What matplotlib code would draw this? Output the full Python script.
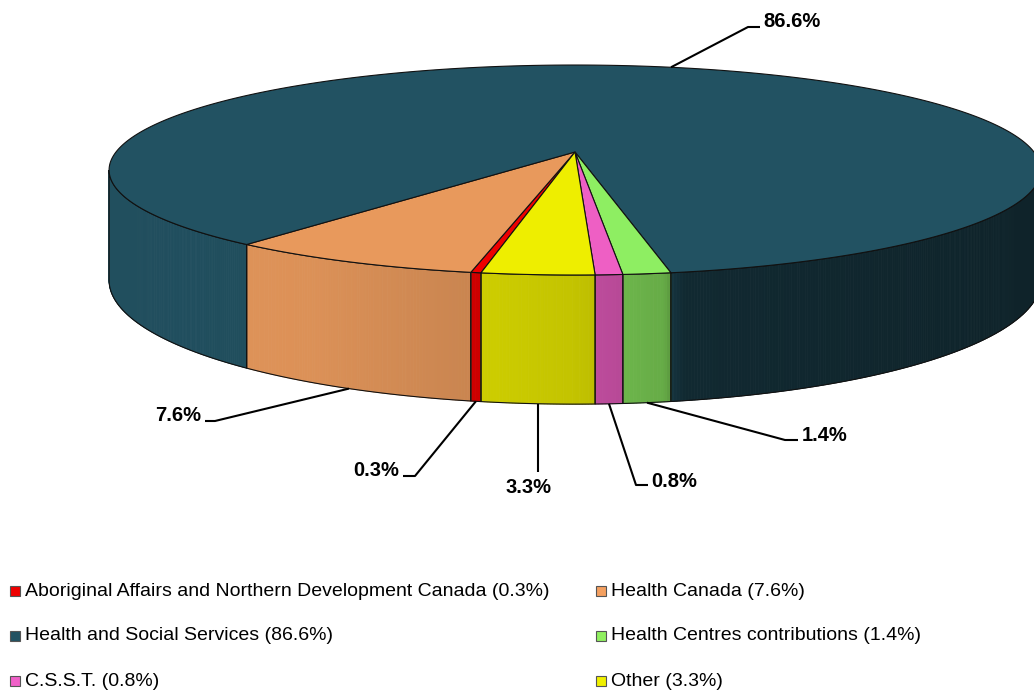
import numpy as np, matplotlib
matplotlib.use('Agg'); import matplotlib.pyplot as plt
from matplotlib.patches import Polygon, Rectangle

plt.rcParams['font.family'] = ['Liberation Sans', 'DejaVu Sans']

labels = ['Aboriginal Affairs and Northern Development Canada', 'Health Canada',
          'Health and Social Services', 'Health Centres contributions', 'C.S.S.T.', 'Other']
values = [0.3, 7.6, 86.6, 1.4, 0.8, 3.3]
colors = ['#ee0000', '#e8995c', '#225262', '#8eee62', '#ee5fc4', '#eeee00']
legend_colors = ['#ee0000', '#f4a060', '#225262', '#90f060', '#f060c8', '#f0f000']

# projection of the tilted disc (pixel coords)
cx, cy, rx, ry, k, h = 575, 152, 459, 101.9, 0.1715, 107
start = -99.8  # degrees, pie runs clockwise

def proj(t, z=0.0):
    u, v = np.cos(t), np.sin(t)
    s = 1.0 / (1 + k * v)
    return cx + rx * u * s, cy - ry * v * s + z * h * s

def shade(c):
    # wall brightness as function of cos(angle)
    return np.interp(c, [-1, -0.5, 0, 0.16, 0.2, 1], [0.96, 0.95, 0.82, 0.72, 0.5, 0.42])

fig = plt.figure(figsize=(10.34, 6.94), dpi=100)
ax = fig.add_axes([0, 0, 1, 1])
ax.set_xlim(0, 1034); ax.set_ylim(694, 0); ax.axis('off')

ang = start - np.cumsum([0] + values) * 3.6
slices = [(np.deg2rad(ang[i + 1]), np.deg2rad(ang[i])) for i in range(len(values))]

# visible wall range (silhouette)
vis0 = np.pi + np.arcsin(k)
vis1 = 2 * np.pi - np.arcsin(k)

for i, (a0, a1) in enumerate(slices):
    base = np.array(matplotlib.colors.to_rgb(colors[i]))
    for n in range(-2, 5):
        sh = 2 * np.pi * n
        lo, hi = max(a0 + sh, vis0), min(a1 + sh, vis1)
        if hi <= lo:
            continue
        ts = np.linspace(lo, hi, max(3, int((hi - lo) * 180)))
        for j in range(len(ts) - 1):
            t0, t1 = ts[j], ts[j + 1]
            x0, y0 = proj(t0); x1, y1 = proj(t1)
            x2, y2 = proj(t1, 1); x3, y3 = proj(t0, 1)
            fc = np.clip(base * shade(np.cos((t0 + t1) / 2)), 0, 1)
            ax.add_patch(Polygon([(x0, y0), (x1, y1), (x2, y2), (x3, y3)], closed=True,
                                 facecolor=fc, edgecolor=fc, lw=0.6, zorder=2))
        top = [proj(t) for t in ts]
        bot = [proj(t, 1) for t in ts[::-1]]
        ax.add_patch(Polygon(top + bot, closed=True, fill=False, edgecolor='#111111', lw=0.8, zorder=3))

for i, (a0, a1) in enumerate(slices):
    ts = np.linspace(a0, a1, max(3, int((a1 - a0) * 120)))
    pts = [(cx, cy)] + [proj(t) for t in ts]
    ax.add_patch(Polygon(pts, closed=True, facecolor=colors[i], edgecolor='#111111', lw=0.8, zorder=4))

# percentage labels with leader lines
lab_layout = [  # (anchor on top rim?, elbow pts, text x, text y, ha)
    (False, [(415, 476), (403, 476)], 399, 476, 'right'),
    (False, [(215, 421), (205, 421)], 201, 421, 'right'),
    (True, [(748, 27), (760, 27)], 763, 27, 'left'),
    (False, [(785, 440), (798, 440)], 802, 441, 'left'),
    (False, [(636, 485), (648, 485)], 651, 487, 'left'),
    (False, [(None, 472)], 528, 493, 'center'),
]
for i, (a0, a1) in enumerate(slices):
    mid = (a0 + a1) / 2
    ontop, elbow, tx, ty, ha = lab_layout[i]
    ax_, ay_ = proj(mid, 0 if ontop else 1)
    pts = [(ax_, ay_)] + [(ax_ if px is None else px, py) for px, py in elbow]
    xs, ys = zip(*pts)
    ax.plot(xs, ys, color='black', lw=1.5, zorder=5, solid_capstyle='butt')
    ax.text(tx, ty, f'{values[i]:.1f}%', ha=ha, va='baseline', fontsize=14.5,
            fontweight='bold', color='black', zorder=6)

# legend
col_x = [10, 596]
row_y = [591, 636, 681]
for i, lab in enumerate(labels):
    x = col_x[i % 2]; y = row_y[i // 2]
    ax.add_patch(Rectangle((x, y - 5), 10, 10, facecolor=legend_colors[i], edgecolor='#555555', lw=0.8))
    ax.text(x + 15, y, f'{lab} ({values[i]:.1f}%)', ha='left', va='center', fontsize=14, color='black')

plt.savefig('out.png', dpi=100)
